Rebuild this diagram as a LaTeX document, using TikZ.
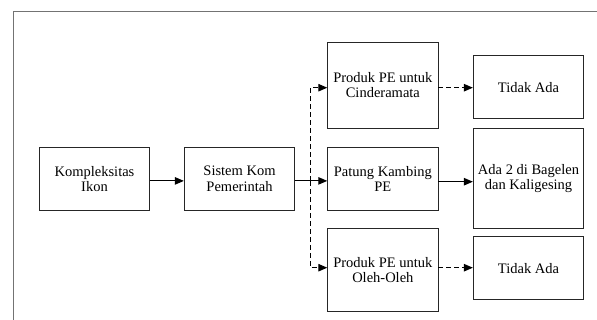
\documentclass[tikz,border=0pt]{standalone}
\usepackage{fontspec}
\setmainfont{Liberation Serif}
\newfontfamily\boxfont{Liberation Serif}
\usetikzlibrary{arrows.meta}
\begin{document}
\begin{tikzpicture}[x=1pt,y=-1pt,
  box/.style={draw=black!85,line width=0.9pt,align=center,inner sep=2pt,
    font=\boxfont\fontsize{14.5}{15.5}\selectfont,minimum width=110.4pt},
  link/.style={draw=black,line width=1pt,-{Triangle[length=9pt,width=7.5pt]}},
  dlink/.style={link,dash pattern=on 5pt off 3pt}]
\useasboundingbox (0,0) rectangle (597,320);
% outer frame
\draw[black!55,line width=0.9pt] (13,330) -- (13,11) -- (610,11);

\node[box,minimum height=63.7pt] (ikon) at (94.5,178.9) {Kompleksitas\\Ikon};
\node[box,minimum height=63.7pt] (sistem) at (239.5,178.9) {Sistem Kom\\Pemerintah};

\node[box,minimum width=110.3pt,minimum height=86.3pt] (cind) at (382.85,85.2) {Produk PE untuk\\Cinderamata};
\node[box,minimum width=110.3pt,minimum height=63.7pt] (patung) at (382.85,178.9) {Patung Kambing\\PE};
\node[box,minimum width=110.3pt,minimum height=83pt] (oleh) at (382.85,270.2) {Produk PE untuk\\Oleh-Oleh};

\node[box,minimum height=63pt] (tidak1) at (528.5,87.2) {Tidak Ada};
\node[box,minimum height=100pt] (ada) at (528.5,178.7) {Ada 2 di Bagelen\\dan Kaligesing};
\node[box,minimum height=63.3pt] (tidak2) at (528.5,268.3) {Tidak Ada};

% branch point of the connectors out of "Sistem Kom Pemerintah"
\coordinate (split) at (310.3,181);
\coordinate (cindin) at ([yshift=-2.5pt]cind.west);
\coordinate (olehin) at ([yshift=2.5pt]oleh.west);

\draw[link] ([yshift=-2pt]ikon.east) -- ([yshift=-2pt]sistem.west);
\draw[link] ([yshift=-2pt]sistem.east) -- ([yshift=-2pt]patung.west);
\draw[dlink] (split) -- (split |- cindin) -- (cindin);
\draw[dlink] (split) -- (split |- olehin) -- (olehin);

\coordinate (cindout) at ([yshift=-2.5pt]cind.east);
\coordinate (patout) at ([yshift=-2.8pt]patung.east);
\coordinate (olehout) at ([yshift=2.5pt]oleh.east);
\draw[dlink] (cindout) -- (cindout -| tidak1.west);
\draw[link] (patout) -- (patout -| ada.west);
\draw[dlink] (olehout) -- (olehout -| tidak2.west);
\end{tikzpicture}
\end{document}
